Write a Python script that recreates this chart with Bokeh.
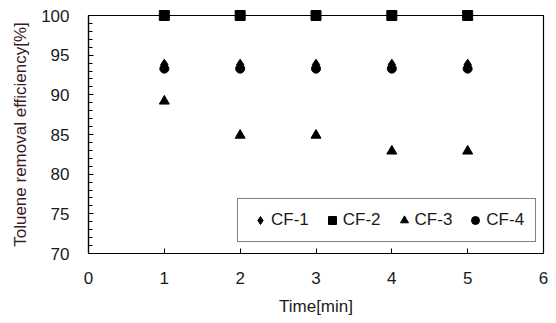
from bokeh.plotting import figure
from bokeh.models import SingleIntervalTicker, FixedTicker, Legend, LegendItem, Range1d
from bokeh.embed import file_html
from bokeh.resources import INLINE

time_min = [1, 2, 3, 4, 5]
cf1 = [93.8, 93.8, 93.8, 93.8, 93.8]
cf2 = [100, 100, 100, 100, 100]
cf3 = [89.2, 84.9, 84.9, 82.9, 82.9]
cf4 = [93.3, 93.3, 93.3, 93.3, 93.3]
x_ticks = [0, 1, 2, 3, 4, 5, 6]

FONT = "Liberation Sans"
FS = "17px"

p = figure(frame_width=455, frame_height=238,
           x_range=Range1d(0, 6), y_range=Range1d(70, 100),
           output_backend="svg", toolbar_location=None,
           min_border_left=88, min_border_right=13, min_border_top=15, min_border_bottom=70)

p.xgrid.visible = False
p.ygrid.visible = False
p.outline_line_color = "black"
p.outline_line_width = 1.2
p.background_fill_color = "white"
p.border_fill_color = "white"

r1 = p.scatter(time_min, cf1, marker="diamond", size=11, color="black")
r2 = p.scatter(time_min, cf2, marker="square", size=10, color="black", level="overlay")
r3 = p.scatter(time_min, cf3, marker="triangle", size=10, color="black")
r4 = p.scatter(time_min, cf4, marker="circle", size=9, color="black")
for r in (r1, r2, r3, r4):
    if "clip" in r.properties():
        r.clip = False

xa = p.xaxis[0]
xa.ticker = FixedTicker(ticks=x_ticks)
xa.axis_label = "Time[min]"
ya = p.yaxis[0]
ya.ticker = SingleIntervalTicker(interval=5, num_minor_ticks=5)
ya.axis_label = "Toluene removal efficiency[%]"

for ax in (xa, ya):
    ax.major_tick_in = 5
    ax.major_tick_out = 0
    ax.minor_tick_in = 4
    ax.minor_tick_out = 0
    ax.axis_line_color = "black"
    ax.axis_line_width = 1.2
    ax.major_tick_line_color = "black"
    ax.minor_tick_line_color = "black"
    ax.major_label_text_font = FONT
    ax.major_label_text_font_size = FS
    ax.major_label_text_color = "#1a1a1a"
    ax.axis_label_text_font = FONT
    ax.axis_label_text_font_size = FS
    ax.axis_label_text_font_style = "normal"
xa.minor_tick_line_color = None
xa.major_label_standoff = 18
xa.axis_label_standoff = 10
xa.axis_label_text_color = "#1a1a1a"
ya.major_label_standoff = 19
ya.axis_label_standoff = 8
ya.axis_label_text_color = "#3a1a24"

legend = Legend(items=[
    LegendItem(label="CF-1", renderers=[r1]),
    LegendItem(label="CF-2", renderers=[r2]),
    LegendItem(label="CF-3", renderers=[r3]),
    LegendItem(label="CF-4", renderers=[r4]),
], location=(149, 11), orientation="horizontal")
legend.margin = 0
legend.padding = 11
legend.spacing = 12
legend.glyph_width = 22
legend.glyph_height = 20
legend.label_height = 20
legend.label_standoff = 0
legend.label_text_font = FONT
legend.label_text_font_size = FS
legend.label_text_color = "#1a1a1a"
legend.border_line_color = "black"
legend.border_line_width = 1.2
legend.background_fill_color = "white"
legend.background_fill_alpha = 1
p.add_layout(legend, "center")

open("out.html", "w").write(file_html(p, INLINE))
